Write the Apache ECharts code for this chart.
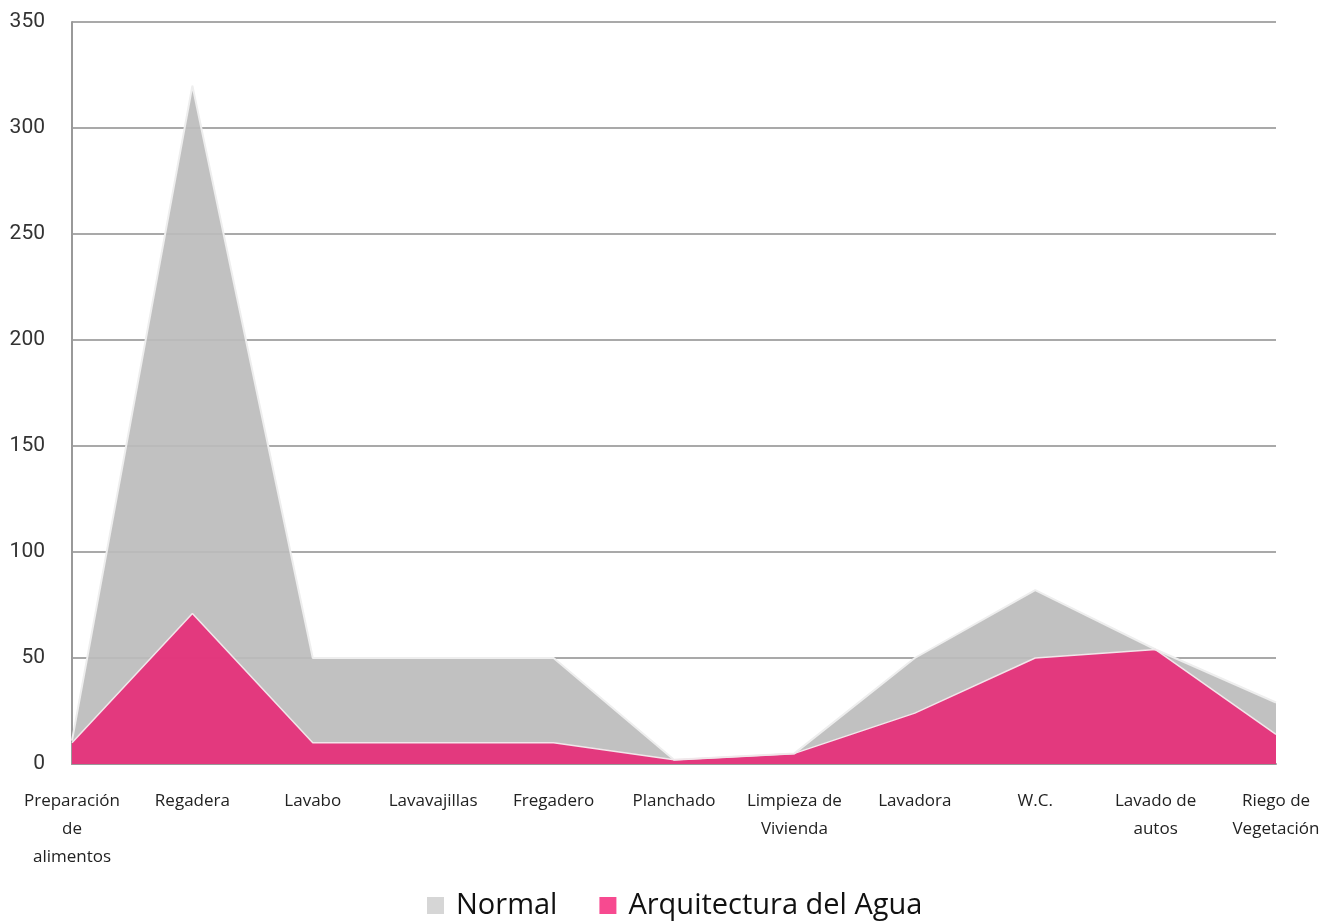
<!DOCTYPE html>
<html>
<head>
<meta charset="utf-8">
<script src="https://cdn.jsdelivr.net/npm/echarts@6/dist/echarts.min.js"></script>
<style>
  html, body { margin: 0; padding: 0; background: #ffffff; }
  #chart { width: 1333px; height: 921px; }
</style>
</head>
<body>
<div id="chart"></div>
<script>
  // categorias de uso del agua
  var categorias = ['Preparación\nde\nalimentos', 'Regadera', 'Lavabo', 'Lavavajillas', 'Fregadero',
    'Planchado', 'Limpieza de\nVivienda', 'Lavadora', 'W.C.', 'Lavado de\nautos', 'Riego de\nVegetación'];
  var normal = [11, 320, 50, 50, 50, 2, 5, 50, 82, 54, 29];
  var arquitectura = [10, 71, 10, 10, 10, 2, 5, 24, 50, 54, 14];
  var yTicks = [0, 50, 100, 150, 200, 250, 300, 350];

  var chart = echarts.init(document.getElementById('chart'));
  chart.setOption({
    animation: false,
    grid: { left: 72, right: 57, top: 22, bottom: 157 },
    legend: {
      bottom: -4,
      left: 422,
      itemWidth: 17,
      itemHeight: 17,
      itemGap: 42,
      icon: 'rect',
      textStyle: { fontFamily: 'Open Sans', fontSize: 29, color: '#111', padding: [0, 0, 0, 7] },
      data: [
        { name: 'Normal', itemStyle: { color: '#d6d6d6' } },
        { name: 'Arquitectura del Agua', itemStyle: { color: '#f74a90' } }
      ]
    },
    xAxis: {
      type: 'category',
      boundaryGap: false,
      data: categorias,
      axisLine: { lineStyle: { color: '#999', width: 2 } },
      axisTick: { show: false },
      axisLabel: {
        interval: 0,
        margin: 23,
        color: '#222',
        fontFamily: 'Open Sans',
        fontSize: 17,
        lineHeight: 28
      }
    },
    yAxis: {
      type: 'value',
      min: yTicks[0],
      max: yTicks[yTicks.length - 1],
      interval: 50,
      axisLine: { show: true, lineStyle: { color: '#999', width: 2 } },
      axisTick: { show: false },
      splitLine: { lineStyle: { color: '#8c8c8c', width: 1.5 } },
      axisLabel: {
        margin: 27,
        color: '#333',
        fontFamily: 'Roboto',
        fontSize: 21
      }
    },
    series: [
      {
        name: 'Normal',
        type: 'line',
        data: normal,
        symbol: 'none',
        color: '#d6d6d6',
        lineStyle: { color: '#eeeeee', width: 2 },
        areaStyle: { color: '#bcbcbc', opacity: 0.93 }
      },
      {
        name: 'Arquitectura del Agua',
        type: 'line',
        data: arquitectura,
        symbol: 'none',
        color: '#f74a90',
        lineStyle: { color: '#f2e6ea', width: 1.5 },
        areaStyle: { color: '#e5327a', opacity: 0.95 }
      }
    ]
  });
</script>
</body>
</html>
